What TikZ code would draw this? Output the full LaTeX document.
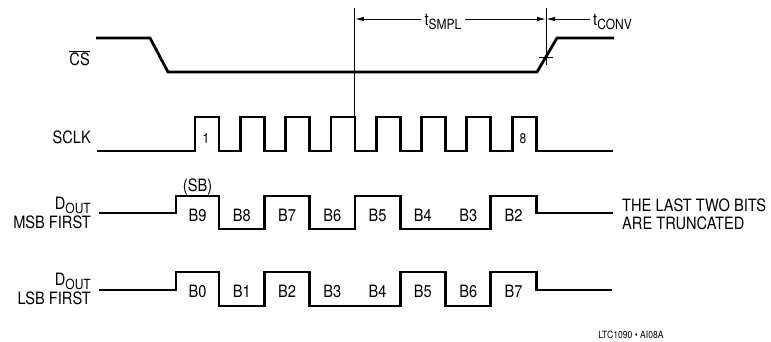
\documentclass[tikz,border=0pt]{standalone}
\usepackage{fontspec}
\setmainfont{TeX Gyre Heros}[FakeStretch=0.86]
\usetikzlibrary{arrows.meta}
\newcommand{\subtxt}[1]{\raisebox{-4pt}{\fontsize{14}{14}\selectfont #1}}

\begin{document}
\begin{tikzpicture}[
  x=1pt, y=-1pt,
  wave/.style={line width=2.8pt},
  timeline/.style={line width=0.9pt},
  arr/.style={-{Latex[length=9pt,width=4.5pt]}, line width=1pt},
  sig/.style={font=\fontsize{17}{19}\selectfont, inner sep=0pt},
  bit/.style={font=\fontsize{17}{17}\selectfont, inner sep=0pt, anchor=base},
  num/.style={font=\fontsize{14}{14}\selectfont, inner sep=0pt, anchor=base},
  tlabel/.style={font=\fontsize{17}{17}\selectfont, inner ysep=0pt, inner xsep=3pt},
  note/.style={font=\fontsize{17}{18}\selectfont, inner sep=0pt, align=left},
  foot/.style={font=\fontsize{10}{10}\selectfont, inner sep=0pt, anchor=base},
]
\useasboundingbox (0,0) rectangle (771,341);

% ============================================================
% SIGNAL NAMES
% ============================================================
\node[sig, anchor=base east] (csname) at (90,65) {$\overline{\mbox{CS}}$};
\node[sig, anchor=base east] (clkname) at (91,143) {SCLK};
\node[sig, anchor=east, align=right] (msbname) at (91,213) {D\subtxt{OUT}\\MSB FIRST};
\node[sig, anchor=east, align=right] (lsbname) at (91,289) {D\subtxt{OUT}\\LSB FIRST};

% ============================================================
% WAVEFORMS
% ============================================================
% chip select
\draw[wave] (96,38) -- (150,38) -- (168,72) -- (537,72) -- (557,38) -- (614,38);

% serial clock
\draw[wave] (97,151) -| (195,117) -| (219,151) -| (240.3,117) -| (264.3,151)
  -| (285.6,117) -| (309.6,151) -| (330.9,117) -| (354.9,151) -| (376.2,117)
  -| (400.2,151) -| (421.5,117) -| (445.5,151) -| (466.8,117) -| (490.8,151)
  -| (512.1,117) -| (536.1,151) -- (613,151);
\node[num] (clkone) at (206,143) {1};
\node[num] (clkeight) at (523,143) {8};

% data out, MSB first
\draw[wave] (99,213) -| (176,196) -| (219,229) -| (264.3,196) -| (309.6,229)
  -| (354.9,196) -| (400.2,229) -| (490.8,196) -| (536.1,213) -- (613,213);
\node[bit] (sb) at (197.5,191) {(SB)};
\node[bit] (m9) at (197.5,221) {B9};
\node[bit] (m8) at (241.7,221) {B8};
\node[bit] (m7) at (287,221) {B7};
\node[bit] (m6) at (332.3,221) {B6};
\node[bit] (m5) at (377.6,221) {B5};
\node[bit] (m4) at (422.9,221) {B4};
\node[bit] (m3) at (468.2,221) {B3};
\node[bit] (m2) at (513.5,221) {B2};
\node[note, anchor=west] (trunc) at (622,214) {THE LAST TWO BITS\\ARE TRUNCATED};

% data out, LSB first
\draw[wave] (99,290) -| (176,272) -| (219,306) -| (264.3,272) -| (309.6,306)
  -| (400.2,272) -| (445.5,306) -| (490.8,272) -| (536.1,290) -- (612,290);
\node[bit] (l0) at (197.5,297) {B0};
\node[bit] (l1) at (241.7,297) {B1};
\node[bit] (l2) at (287,297) {B2};
\node[bit] (l3) at (332.3,297) {B3};
\node[bit] (l4) at (377.6,297) {B4};
\node[bit] (l5) at (422.9,297) {B5};
\node[bit] (l6) at (468.2,297) {B6};
\node[bit] (l7) at (513.5,297) {B7};

% ============================================================
% TIMING
% ============================================================
\coordinate (smplA) at (354.9,19);
\coordinate (smplB) at (546,19);
\draw[timeline] (354.9,8) -- (354.9,117);
\draw[timeline] (546,8) -- (546,65);
\draw[timeline] (539,57) -- (553,57);

\node[tlabel, anchor=base] (tsmpl) at (443,25) {t\subtxt{SMPL}};
\draw[arr] (tsmpl.west |- smplA) -- (smplA);
\draw[arr] (tsmpl.east |- smplB) -- (smplB);

\node[tlabel, anchor=base west] (tconv) at (590,25) {t\subtxt{CONV}};
\draw[arr] (tconv.west |- smplB) -- (smplB);

\node[foot] (figid) at (631,338) {LTC1090 • AI08A};

\end{tikzpicture}
\end{document}
